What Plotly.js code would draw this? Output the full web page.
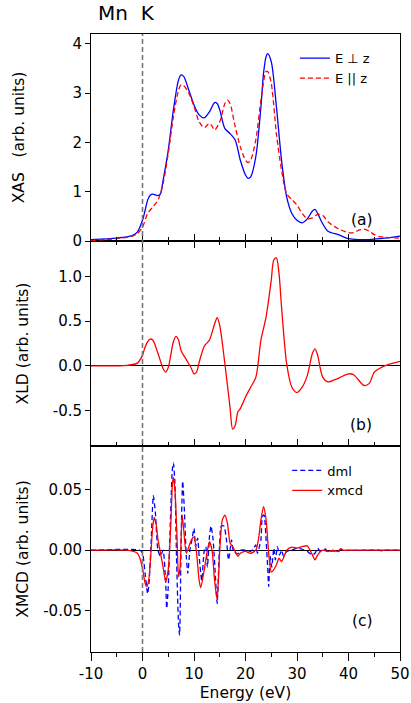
<!DOCTYPE html>
<html>
<head>
<meta charset="utf-8">
<script src="https://cdn.plot.ly/plotly-3.0.1.min.js"></script>
<style>html,body{margin:0;padding:0;background:#fff;}#chart{width:411px;height:703px;}</style>
</head>
<body>
<div id="chart"></div>
<script>
// ---- Panel (a): XAS ----
const xasX = [-10,-5,-2,-1,0,0.5,1,1.5,2,3,3.5,4,5,6,7,7.5,8,9,10,11,12,13,14,14.5,15,16,17,18,19,20,20.5,21,22,23,23.5,24,24.3,25,26,27,28,29,30,31,32,33,33.5,34,35,36,38,40,42,44,46,48,50];
const xasPerp = [0.03,0.06,0.11,0.18,0.42,0.62,0.83,0.93,0.95,0.92,0.96,1.23,1.84,2.66,3.27,3.37,3.34,3.06,2.76,2.56,2.50,2.62,2.81,2.79,2.66,2.28,2.18,2.05,1.64,1.34,1.27,1.30,1.71,2.73,3.40,3.74,3.80,3.64,2.73,1.64,0.89,0.56,0.42,0.37,0.45,0.61,0.64,0.56,0.35,0.20,0.13,0.05,0.03,0.03,0.05,0.07,0.10];
const xasParX = [-10,-5,-2,-1,0,1,2,3,4,5,6,7,7.5,8,9,10,11,12,13,13.5,14,15,16,16.5,17,18,19,20,20.5,21,22,23,24,24.3,25,26,27,28,29,30,31,32,33,34,35,36,38,40,41,42,43,44,45,46,48,50];
const xasPar = [0.01,0.05,0.10,0.15,0.28,0.56,0.69,0.83,1.17,1.78,2.52,3.06,3.17,3.15,3.00,2.73,2.42,2.30,2.39,2.33,2.25,2.42,2.79,2.86,2.79,2.32,1.91,1.64,1.59,1.64,2.05,2.86,3.44,3.44,3.20,2.18,1.44,0.96,0.84,0.73,0.56,0.45,0.47,0.54,0.52,0.39,0.25,0.17,0.17,0.22,0.24,0.20,0.13,0.09,0.07,0.06];

// ---- Panel (b): XLD ----
const xldX = [-10,-3,-1,0,0.5,1,1.5,2,3,4,4.5,5,6,6.5,7,7.5,8.5,9.5,10,10.5,11,12,13,14,14.5,15,16,17,17.5,18,18.5,19,20,21,22,23,24,25,25.5,26,26.5,27,28,29,30,31,32,33,33.5,34,35,36,38,40,41,43,44,45,46,47,48,50];
const xld = [0,0.005,0.03,0.12,0.21,0.27,0.30,0.29,0.14,-0.03,-0.07,-0.02,0.27,0.33,0.29,0.17,0.07,-0.03,-0.09,-0.07,0.04,0.22,0.29,0.47,0.54,0.45,0.02,-0.47,-0.71,-0.67,-0.52,-0.48,-0.35,-0.24,-0.13,0.29,0.55,0.96,1.19,1.21,1.04,0.66,0.02,-0.24,-0.30,-0.24,-0.11,0.14,0.19,0.12,-0.13,-0.18,-0.14,-0.09,-0.10,-0.22,-0.20,-0.07,-0.03,0.0,0.02,0.05];

// ---- Panel (c): XMCD ----
const xmcdX = [-10,-3,-1,-0.5,0,0.5,0.8,1.2,1.5,2,2.3,2.7,3,3.5,4,4.5,5,5.5,5.8,6,6.3,6.7,7,7.3,7.7,8,8.5,9,9.5,10,10.5,11,11.3,12,12.5,13,13.5,14,14.5,15,15.5,16,16.5,17,17.5,18,18.5,19,20,21,22,22.5,23,23.5,24,24.5,25,25.5,26,26.5,27,27.5,28,29,30,31,32,33,33.5,34,35,36,37,38,38.5,39,40,50];
const xmcd = [0,0,-0.0025,-0.0066,-0.015,-0.027,-0.030,-0.025,-0.011,0.020,0.027,0.020,0.009,-0.0025,-0.014,-0.026,-0.016,0.022,0.054,0.060,0.050,0.011,-0.022,-0.014,0.029,0.017,-0.0025,0.003,0.0086,0.011,-0.0025,-0.025,-0.031,-0.016,-0.0025,0.007,0,-0.025,-0.041,0,0.025,0.029,0.022,0.006,0.003,-0.001,-0.005,-0.0025,-0.001,-0.0025,0,0.0086,0.025,0.036,0.025,-0.0025,-0.018,-0.016,-0.012,-0.0066,-0.0094,-0.005,0,0.0025,0.0017,0.003,0.0036,-0.004,-0.008,-0.004,0,-0.001,0,-0.001,0.0014,0,0,0];
const dmlX = [-10,-0.5,0,0.5,1,1.3,1.7,2.1,2.5,3,3.5,4,4.5,4.7,5,5.3,5.8,6,6.3,6.6,7,7.2,7.5,7.8,8.1,8.5,8.8,9.2,9.6,10,10.3,10.7,11,11.5,12,12.3,12.6,13,13.3,13.7,14.2,14.5,14.9,15.3,15.8,16.3,16.7,17,17.3,17.6,18,18.5,19,20,21,21.5,22,22.3,22.7,23,23.3,23.6,24,24.3,24.5,24.8,25.1,25.5,25.8,26.2,26.6,27,27.4,28,29,30,31,32,33,33.5,34,34.5,35.5,36,37,38,38.5,39,46,46.5,47,50];
const dml = [0,0,-0.0025,-0.019,-0.036,-0.025,0.009,0.045,0.031,0,-0.005,0,-0.027,-0.048,-0.030,0.009,0.067,0.072,0.055,-0.005,-0.061,-0.070,0.0086,0.057,0.036,-0.005,-0.019,0,0.0086,0.018,0.003,0.010,-0.005,-0.025,0,0.003,-0.014,0.011,0.020,0.009,-0.025,-0.044,-0.0025,0.020,0.020,0.0086,-0.008,0,0.0086,0,-0.002,-0.003,0,0,-0.001,0.001,0.0044,-0.0025,0.003,0.0086,0.028,0.029,0.0086,-0.014,-0.030,-0.005,-0.014,0.0017,-0.008,0.003,-0.004,0,-0.005,-0.001,0,0.0017,0.0008,-0.001,-0.004,-0.0025,0.0017,-0.001,0.001,-0.0014,-0.0005,-0.0014,0.0008,0,0,-0.0005,0,0];

// ---- Tick labels ----
const xTickVals = [-10,0,10,20,30,40,50];
const xTickText = ['-10','0','10','20','30','40','50'];
const yaTickVals = [0,1,2,3,4];
const yaTickText = ['0','1','2','3','4'];
const ybTickVals = [-0.5,0,0.5,1.0];
const ybTickText = ['-0.5','0.0','0.5','1.0'];
const ycTickVals = [-0.05,0,0.05];
const ycTickText = ['-0.05','0.00','0.05'];

const FONT = 'DejaVu Sans, Verdana, sans-serif';
const BLUE = '#0000ff', RED = '#ff0000';

const traces = [
  {x: xasX, y: xasPerp, xaxis:'x3', yaxis:'y', type:'scatter', mode:'lines', name:'E \u22a5 z',
   line:{color:BLUE, width:1.3, shape:'spline', smoothing:0.8}, legend:'legend'},
  {x: xasParX, y: xasPar, xaxis:'x3', yaxis:'y', type:'scatter', mode:'lines', name:'E || z',
   line:{color:RED, width:1.3, dash:'5px,3px', shape:'spline', smoothing:0.8}, legend:'legend'},
  {x: xldX, y: xld, xaxis:'x2', yaxis:'y2', type:'scatter', mode:'lines', name:'XLD', showlegend:false,
   line:{color:RED, width:1.3, shape:'spline', smoothing:0.8}},
  {x: dmlX, y: dml, xaxis:'x', yaxis:'y3', type:'scatter', mode:'lines', name:'dml',
   line:{color:BLUE, width:1.3, dash:'5px,3px', shape:'spline', smoothing:0.6}, legend:'legend2'},
  {x: xmcdX, y: xmcd, xaxis:'x', yaxis:'y3', type:'scatter', mode:'lines', name:'xmcd',
   line:{color:RED, width:1.3, shape:'spline', smoothing:0.6}, legend:'legend2'}
];

const xCommon = {range:[-10,50], tickvals:xTickVals, ticktext:xTickText, showline:true, linecolor:'#000', linewidth:1,
  showgrid:false, zeroline:false, tickcolor:'#000', tickfont:{family:FONT, size:15, color:'#000'}};
const yCommon = {showline:true, linecolor:'#000', linewidth:1, showgrid:false, ticks:'outside', ticklen:5, tickcolor:'#000',
  tickfont:{family:FONT, size:15, color:'#000'}, mirror:true};

const layout = {
  width:411, height:703,
  margin:{l:91, r:11, t:34, b:51},
  paper_bgcolor:'#fff', plot_bgcolor:'#fff',
  font:{family:FONT, color:'#000'},
  showlegend:true,
  title:{text:'Mn\u00a0\u00a0K', font:{family:FONT, size:20, color:'#000'}, xref:'container', yref:'container', x:98/411, xanchor:'left', y:1-13/703, yanchor:'middle'},
  xaxis: Object.assign({}, xCommon, {anchor:'y3', domain:[0,1], ticks:'outside', ticklen:8, showticklabels:true, mirror:true,
    minor:{dtick:5, tick0:-10, ticks:'outside', ticklen:4, tickcolor:'#000'},
    title:{text:'Energy (eV)', font:{family:FONT, size:15.5, color:'#000'}, standoff:5}}),
  xaxis2: Object.assign({}, xCommon, {anchor:'y2', matches:'x', ticks:'inside', ticklen:7, showticklabels:false, mirror:'ticks',
    minor:{dtick:5, tick0:-10, ticks:'inside', ticklen:4, tickcolor:'#000'}}),
  xaxis3: Object.assign({}, xCommon, {anchor:'y', matches:'x', ticks:'inside', ticklen:7, showticklabels:false, mirror:true,
    minor:{dtick:5, tick0:-10, ticks:'inside', ticklen:4, tickcolor:'#000'}}),
  xaxis4: Object.assign({}, xCommon, {anchor:'y3', overlaying:'x', side:'top', matches:'x', ticks:'inside', ticklen:7, showticklabels:false, showline:false,
    minor:{dtick:5, tick0:-10, ticks:'inside', ticklen:4, tickcolor:'#000'}}),
  yaxis: Object.assign({}, yCommon, {domain:[0.665,1], anchor:'x3', range:[0,4.2], tickvals:yaTickVals, ticktext:yaTickText, zeroline:false,
    title:{text:'XAS\u00a0\u00a0\u00a0(arb. units)', font:{family:FONT, size:15.5, color:'#000'}, standoff:44}}),
  yaxis2: Object.assign({}, yCommon, {domain:[0.3333,0.665], anchor:'x2', range:[-0.9,1.4], tickvals:ybTickVals, ticktext:ybTickText,
    zeroline:true, zerolinecolor:'#000', zerolinewidth:1,
    title:{text:'XLD (arb. units)', font:{family:FONT, size:15.5, color:'#000'}, standoff:20}}),
  yaxis3: Object.assign({}, yCommon, {domain:[0,0.3333], anchor:'x', range:[-0.084,0.086], tickvals:ycTickVals, ticktext:ycTickText,
    zeroline:true, zerolinecolor:'#000', zerolinewidth:1,
    title:{text:'XMCD (arb. units)', font:{family:FONT, size:15.5, color:'#000'}, standoff:10}}),
  yaxis4: {overlaying:'y', anchor:'x3', range:[0,4.2], tickvals:yaTickVals, showticklabels:false, ticks:'inside', ticklen:5, tickcolor:'#000', showline:false, showgrid:false, zeroline:false},
  yaxis5: {overlaying:'y2', anchor:'x2', range:[-0.9,1.4], tickvals:ybTickVals, showticklabels:false, ticks:'inside', ticklen:5, tickcolor:'#000', showline:false, showgrid:false, zeroline:false},
  yaxis6: {overlaying:'y3', anchor:'x', range:[-0.084,0.086], tickvals:ycTickVals, showticklabels:false, ticks:'inside', ticklen:5, tickcolor:'#000', showline:false, showgrid:false, zeroline:false},
  legend:{x:0.66, xanchor:'left', y:0.985, yanchor:'top', bgcolor:'rgba(0,0,0,0)', borderwidth:0,
    font:{family:FONT, size:13, color:'#000'}, tracegroupgap:0, itemwidth:30},
  legend2:{x:0.635, xanchor:'left', y:0.318, yanchor:'top', bgcolor:'rgba(0,0,0,0)', borderwidth:0,
    font:{family:FONT, size:13, color:'#000'}, tracegroupgap:0, itemwidth:30},
  shapes:[
    {type:'line', xref:'x', yref:'paper', x0:0, x1:0, y0:0, y1:1, line:{color:'#777', width:1.6, dash:'5px,3px'}, layer:'above'}
  ],
  annotations:[
    {text:'(a)', xref:'paper', yref:'paper', x:0.92, y:0.717, showarrow:false, font:{family:FONT, size:15.5, color:'#000'}},
    {text:'(b)', xref:'paper', yref:'paper', x:0.917, y:0.367, showarrow:false, font:{family:FONT, size:15.5, color:'#000'}},
    {text:'(c)', xref:'paper', yref:'paper', x:0.92, y:0.032, showarrow:false, font:{family:FONT, size:15.5, color:'#000'}}
  ]
};

Plotly.newPlot('chart', traces, layout, {staticPlot:true, displayModeBar:false});
</script>
</body>
</html>
